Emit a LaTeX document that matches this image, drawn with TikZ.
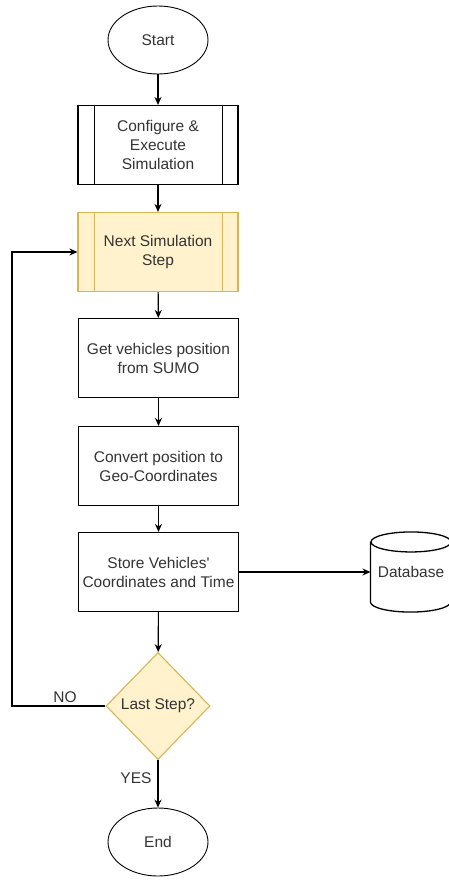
\documentclass[tikz,border=0pt]{standalone}
\usepackage{fontspec}
\setmainfont{Liberation Sans}
\usetikzlibrary{shapes.geometric,arrows.meta,calc}

\definecolor{noteFill}{HTML}{FFF2CC}
\definecolor{noteLine}{HTML}{D6B656}

\tikzset{
  base/.style={draw=black, line width=1.1pt, align=center,
    font=\fontsize{15.5}{19}\selectfont, text=black!80, inner sep=0pt},
  procbox/.style={base, rectangle, minimum width=160pt, minimum height=79pt},
  subproc/.style={procbox},
  terminal/.style={base, ellipse, line width=0.9pt, minimum width=100pt, minimum height=68pt},
  decision/.style={base, diamond, draw=noteLine, fill=noteFill,
    minimum width=104pt, minimum height=107pt},
  flow/.style={line width=1.1pt, -{Stealth[length=8pt,width=7pt]}},
  lbl/.style={font=\fontsize{15.5}{18}\selectfont, text=black!80}
}

\begin{document}
\begin{tikzpicture}[x=1pt,y=-1pt]
\useasboundingbox (0,0) rectangle (449,881);

% flow steps
\node[terminal] (start) at (158,40) {Start};
\node[subproc] (config) at (158,145) {Configure \&\\Execute\\Simulation};
\node[subproc, fill=noteFill, draw=noteLine] (next) at (158,252) {Next Simulation\\Step};
\node[procbox] (getpos) at (158.5,358) {Get vehicles position\\from SUMO};
\node[procbox] (convert) at (158.5,466) {Convert position to\\Geo-Coordinates};
\node[procbox] (store) at (158.5,572) {Store Vehicles\textquotesingle\\Coordinates and Time};
\node[decision] (last) at (158,706) {Last Step?};
\node[terminal] (stop) at (158,842) {End};

% side bars of the predefined-process boxes
\foreach \n/\c in {config/black, next/noteLine}{
  \draw[line width=1.1pt, draw=\c] ($(\n.north west)+(17,0)$) -- ($(\n.south west)+(17,0)$);
  \draw[line width=1.1pt, draw=\c] ($(\n.north east)+(-16,0)$) -- ($(\n.south east)+(-16,0)$);
}

% database store
\node[base, draw=none, minimum width=80pt, minimum height=79pt] (db) at (411,572) {Database};
\draw[line width=1.3pt]
  ($(db.north west)+(0,10)$) -- ($(db.south west)+(0,-10)$)
  arc[start angle=180, end angle=360, x radius=40pt, y radius=10pt]
  -- ($(db.north east)+(0,10)$);
\draw[line width=1.3pt] (db.north) ++(0,10) ellipse[x radius=40pt, y radius=10pt];

% connectors
\draw[flow] (start) -- (config);
\draw[flow] (config) -- (next);
\draw[flow] (next) -- (getpos);
\draw[flow] (getpos) -- (convert);
\draw[flow] (convert) -- (store);
\draw[flow] (store) -- (last);
\draw[flow] (store.east) -- (db.west);
\coordinate (loopL) at (12,706);
\draw[flow] (last.west) -- (loopL) |- (next.west);
\draw[flow] (last.south) -- (stop.north);

% branch labels
\node[lbl] (nolbl) at (65,697) {NO};
\node[lbl] (yeslbl) at (136,778) {YES};
\end{tikzpicture}
\end{document}
